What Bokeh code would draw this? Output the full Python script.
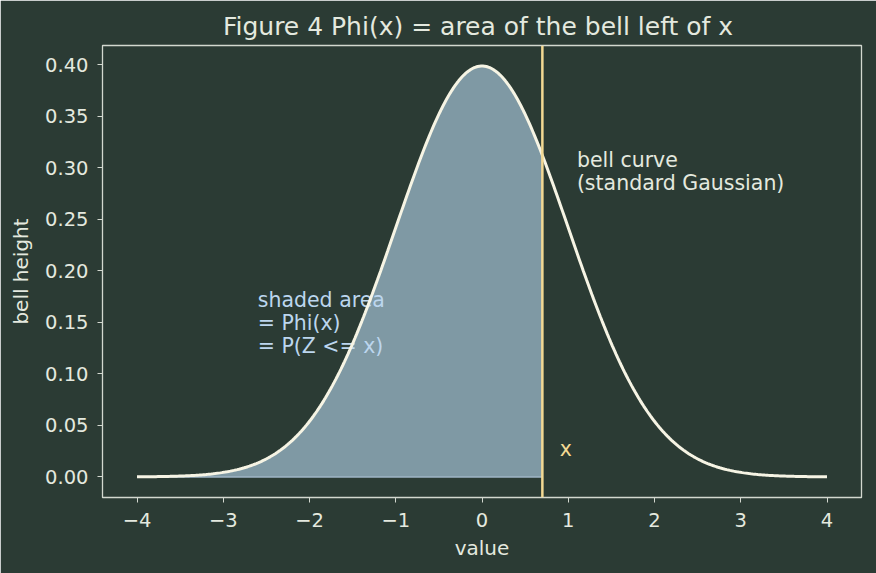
import numpy as np
from bokeh.plotting import figure
from bokeh.models import Range1d, Span, FixedTicker
from bokeh.core.properties import value
from bokeh.embed import file_html
from bokeh.resources import INLINE

# Standard Gaussian parameters and the cut point x
mu = 0.0
sigma = 1.0
x_cut = 0.7
x_min, x_max = -4.0, 4.0

x_ticks = [-4, -3, -2, -1, 0, 1, 2, 3, 4]
x_tick_labels = ["\u22124", "\u22123", "\u22122", "\u22121", "0", "1", "2", "3", "4"]
y_ticks = [0.0, 0.05, 0.10, 0.15, 0.20, 0.25, 0.30, 0.35, 0.40]
y_tick_labels = ["0.00", "0.05", "0.10", "0.15", "0.20", "0.25", "0.30", "0.35", "0.40"]

title_text = "Figure 4  Phi(x) = area of the bell left of x"
shade_note = "shaded area\n= Phi(x)\n= P(Z <= x)"
curve_note = "bell curve\n(standard Gaussian)"


def gauss(x):
    return np.exp(-0.5 * ((x - mu) / sigma) ** 2) / (sigma * np.sqrt(2 * np.pi))


xs = np.linspace(x_min, x_max, 400)
pdf = gauss(xs)
mask = xs <= x_cut
xs_fill = np.append(xs[mask], x_cut)
pdf_fill = np.append(pdf[mask], gauss(x_cut))

BG = "#2b3b34"
FG = "#e4e9df"
SPINE = "#d3d8cf"
FONT = "DejaVu Sans"

peak = pdf.max()
span = x_max - x_min
p = figure(width=876, height=573, output_backend="svg", toolbar_location=None,
           x_range=Range1d(x_min - 0.05 * span, x_max + 0.05 * span),
           y_range=Range1d(-0.05 * peak, peak * 1.05),
           min_border_left=102, min_border_right=15, min_border_top=45, min_border_bottom=76)
p.background_fill_color = BG
p.border_fill_color = BG
p.outline_line_color = SPINE
p.outline_line_width = 1.3
p.grid.visible = False

p.title.text = title_text
p.title.align = "center"
p.title.text_color = FG
p.title.text_font = FONT
p.title.text_font_size = "25px"
p.title.text_font_style = "normal"
p.title.standoff = 10

for ax in (p.xaxis[0], p.yaxis[0]):
    ax.axis_line_color = SPINE
    ax.major_tick_line_color = SPINE
    ax.major_tick_out = 5
    ax.major_tick_in = 0
    ax.minor_tick_line_color = None
    ax.major_label_text_color = FG
    ax.major_label_text_font = FONT
    ax.major_label_text_font_size = "19.5px"
    ax.axis_label_text_color = FG
    ax.axis_label_text_font = FONT
    ax.axis_label_text_font_size = "20px"
    ax.axis_label_text_font_style = "normal"

p.xaxis.ticker = FixedTicker(ticks=x_ticks)
p.xaxis.major_label_overrides = dict(zip(x_ticks, x_tick_labels))
p.xaxis.axis_label = "value"
p.xaxis.major_label_standoff = 10
p.xaxis.axis_label_standoff = 6

p.yaxis.ticker = FixedTicker(ticks=y_ticks)
p.yaxis.major_label_overrides = dict(zip(y_ticks, y_tick_labels))
p.yaxis.axis_label = "bell height"
p.yaxis.major_label_standoff = 9
p.yaxis.axis_label_standoff = 9

# Shaded area under the bell, left of the cut
p.varea(x=xs_fill, y1=0, y2=pdf_fill, fill_color="#7f99a4", fill_alpha=1.0)
p.line(x=[x_min, x_cut], y=[0, 0], line_color="#9fb6c6", line_width=1.5)

p.text(x=[-2.6], y=[0.12], text=[shade_note], text_color="#bcd6ee",
       text_font=value(FONT), text_font_size="20.5px", text_baseline="bottom",
       text_line_height=0.96, y_offset=5)

# Bell curve
p.line(x=xs, y=pdf, line_color="#f6f4e4", line_width=3)

# Cut line at x
p.add_layout(Span(location=x_cut, dimension="height", line_color="#f3d993", line_width=2.5))

p.text(x=[1.1], y=[0.28], text=[curve_note], text_color=FG,
       text_font=value(FONT), text_font_size="20.5px", text_baseline="bottom",
       text_line_height=0.96, y_offset=6)
p.text(x=[x_cut + 0.2], y=[0.02], text=["x"], text_color="#f3d993",
       text_font=value(FONT), text_font_size="20.5px", text_baseline="bottom",
       y_offset=5)

open("out.html", "w").write(file_html(p, INLINE))
